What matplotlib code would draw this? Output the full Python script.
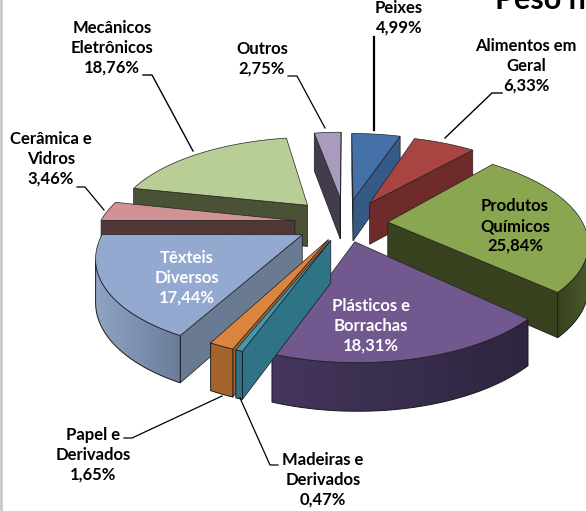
import numpy as np
import matplotlib
matplotlib.use("Agg")
import matplotlib.pyplot as plt
from matplotlib.colors import to_rgb
from matplotlib.patches import Polygon

plt.rcParams['font.family'] = ['Lato', 'DejaVu Sans']

categorias = ["Peixes", "Alimentos em\nGeral", "Produtos\nQuímicos", "Plásticos e\nBorrachas",
              "Madeiras e\nDerivados", "Papel e\nDerivados", "Têxteis\nDiversos",
              "Cerâmica e\nVidros", "Mecânicos\nEletrônicos", "Outros"]
valores = [4.99, 6.33, 25.84, 18.31, 0.47, 1.65, 17.44, 3.46, 18.76, 2.75]
rotulos = ["4,99%", "6,33%", "25,84%", "18,31%", "0,47%", "1,65%", "17,44%", "3,46%", "18,76%", "2,75%"]

cor_topo = ["#4472A8", "#A84442", "#8AA650", "#71588F", "#4198AF", "#DB843D", "#93A9CF", "#D09292", "#B9CD96", "#A99BBD"]
cor_lado = ["#355A85", "#6E2B2A", "#38421E", "#4A3A63", "#2E7386", "#A5642D", "#6A7A93", "#523738", "#4A5236", "#433C4D"]
# parede externa: cor na esquerda, cor na direita
parede_esq = ["#355A85", "#6E2B2A", "#38421E", "#44365C", "#2E7386", "#A5642D", "#90A3C4", "#523738", "#4A5236", "#433C4D"]
parede_dir = ["#355A85", "#6E2B2A", "#4A5A2A", "#2E2540", "#2E7386", "#A5642D", "#6B7C98", "#523738", "#4A5236", "#433C4D"]
explode = [0.28, 0.27, 0.22, 0.21, 0.2, 0.2, 0.25, 0.26, 0.29, 0.30]
ordem = [9, 8, 0, 1, 7, 2, 6, 3, 5, 4]  # de tras pra frente

CX, CY = 345, 223
R, S, K = 195, 88, 0.2
D = 42


def proj(u, v, baixo=False):
    f = 1 / (1 - K * v)
    x = CX + R * u * f
    y = CY + S * v * f
    if baixo:
        y = y + D * (0.5 + 0.5 * f)
    return x, y


def area(p):
    p = np.array(p)
    x, y = p[:, 0], p[:, 1]
    return np.sum(x * np.roll(y, -1) - np.roll(x, -1) * y)


fig = plt.figure(figsize=(5.86, 5.11), dpi=100)
ax = fig.add_axes([0, 0, 1, 1])

limites = np.cumsum([0] + valores) / sum(valores) * 2 * np.pi
z = 1

for i in ordem:
    t0, t1 = limites[i], limites[i + 1]
    tm = (t0 + t1) / 2
    au, av = explode[i] * np.sin(tm), -explode[i] * np.cos(tm)
    ts = np.linspace(t0, t1, 60)
    us, vs = au + np.sin(ts), av - np.cos(ts)

    # faces radiais
    for k, t in enumerate([t0, t1]):
        ou, ov = au + np.sin(t), av - np.cos(t)
        face = [proj(au, av), proj(ou, ov), proj(ou, ov, True), proj(au, av, True)]
        if (k == 1 and area(face) > 0) or (k == 0 and area(face) < 0):
            ax.add_patch(Polygon(face, closed=True, fc=cor_lado[i], ec="#1a1a1a", lw=0.5, zorder=z))
            z += 1

    # parede externa, so o trecho virado pra frente
    vis = []
    for j in range(len(ts) - 1):
        seg = [proj(us[j], vs[j]), proj(us[j + 1], vs[j + 1]), proj(us[j + 1], vs[j + 1], True), proj(us[j], vs[j], True)]
        if area(seg) < 0:
            vis += [j, j + 1]
    if vis:
        idx = sorted(set(vis))
        cima = [proj(us[j], vs[j]) for j in idx]
        baixo = [proj(us[j], vs[j], True) for j in idx]
        contorno = cima + baixo[::-1]
        xs_c = [p[0] for p in contorno]
        ys_c = [p[1] for p in contorno]
        peca = Polygon(contorno, closed=True, fc="none", ec="#1a1a1a", lw=0.7, zorder=z + 1)
        ax.add_patch(peca)
        grad = np.linspace(to_rgb(parede_esq[i]), to_rgb(parede_dir[i]), 64)[np.newaxis, :, :]
        img = ax.imshow(grad, extent=(min(xs_c), max(xs_c), max(ys_c), min(ys_c)), aspect="auto", zorder=z, interpolation="bilinear")
        img.set_clip_path(peca)
        z += 2

    topo = [proj(au, av)] + [proj(u, v) for u, v in zip(us, vs)]
    ax.add_patch(Polygon(topo, closed=True, fc=cor_topo[i], ec="#222222", lw=0.5, zorder=z))
    z += 1

ax.set_xlim(0, 586)
ax.set_ylim(511, 0)
ax.axis("off")

# rotulos: (indice, x, y, cor)
pos_rotulos = [(0, 399, 18, "black"), (1, 526, 66, "black"), (2, 515, 226, "black"), (3, 371, 326, "white"),
               (4, 323, 480, "black"), (5, 93, 455, "black"), (6, 187, 278, "white"),
               (7, 51, 159, "black"), (8, 112, 48, "black"), (9, 262, 59, "black")]
for i, x, y, c in pos_rotulos:
    nome = categorias[i] + "\n" + rotulos[i]
    ax.text(x, y, nome, color=c, fontsize=12, fontweight="bold", ha="center", va="center", linespacing=1.3, zorder=z)

linhas = [([374, 374], [37, 130], 1.6),
          ([502, 492, 445], [93, 93, 138], 1),
          ([143, 152, 193], [75, 75, 151], 1),
          ([288, 297, 325], [76, 76, 128], 0.9),
          ([77, 85, 104], [187, 187, 210], 0.9),
          ([124, 132, 222], [438, 438, 396], 0.9),
          ([278, 270, 240], [465, 465, 398], 0.9)]
for xs, ys, lw in linhas:
    ax.plot(xs, ys, color="black", lw=lw, zorder=z)

ax.text(495, 9, "Peso n", fontsize=22, fontweight="bold", color="black", va="baseline", ha="left", clip_on=True, zorder=z)
ax.plot([0.5, 0.5], [0, 511], color="#c8c8c8", lw=2, zorder=z)

fig.savefig("out.png", dpi=100)
